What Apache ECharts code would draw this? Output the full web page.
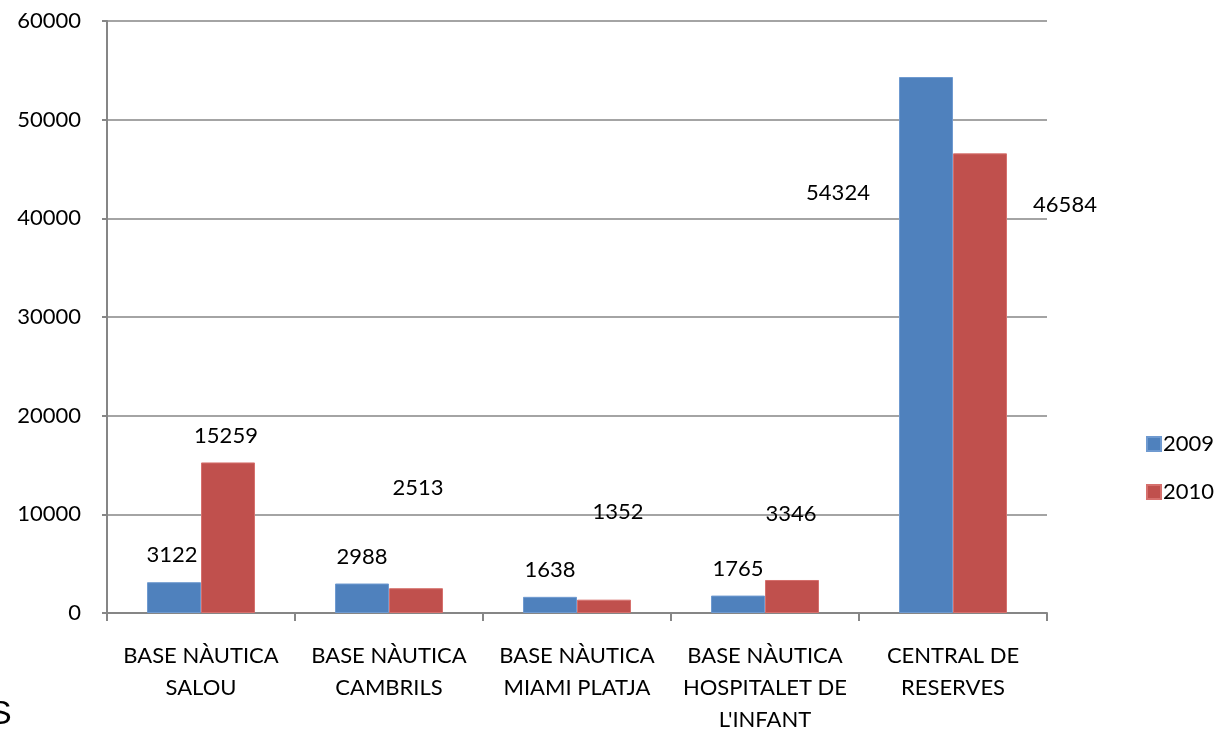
<!DOCTYPE html>
<html>
<head>
<meta charset="utf-8">
<script src="https://cdn.jsdelivr.net/npm/echarts@6/dist/echarts.min.js"></script>
<style>
html,body{margin:0;padding:0;background:#fff;}
#chart{width:1219px;height:730px;}
</style>
</head>
<body>
<div id="chart"></div>
<script>
const categories = [
  "BASE NÀUTICA\nSALOU",
  "BASE NÀUTICA\nCAMBRILS",
  "BASE NÀUTICA\nMIAMI PLATJA",
  "BASE NÀUTICA\nHOSPITALET DE\nL'INFANT",
  "CENTRAL DE\nRESERVES"
];
const values2009 = [3122, 2988, 1638, 1765, 54324];
const values2010 = [15259, 2513, 1352, 3346, 46584];
const seriesNames = ["2009", "2010"];
const yTicks = { min: 0, max: 60000, interval: 10000 };

// label placement (pixel nudges relative to bar top-centre), styling only
const nudge2009 = [[-2, -27], [0, -27], [0, -27], [0, -27], [-88, 116]];
const nudge2010 = [[-2, -27], [2, -100], [14, -88], [-1, -66], [85, 52]];

const FONT = "Lato";
const LABEL_SIZE = 22;

function build(values, nudges) {
  return values.map((v, i) => ({
    value: v,
    label: { offset: nudges[i] }
  }));
}

const chart = echarts.init(document.getElementById('chart'), null, { renderer: 'canvas' });
const labelStyle = {
  show: true,
  position: ['50%', 0],
  align: 'center',
  verticalAlign: 'middle',
  color: '#000',
  fontFamily: FONT,
  fontSize: LABEL_SIZE
};
chart.setOption({
  animation: false,
  textStyle: { fontFamily: FONT },
  grid: { left: 107, right: 172, top: 21, bottom: 117, containLabel: false, outerBoundsMode: 'none' },
  legend: {
    orient: 'vertical',
    left: 1141,
    top: 428,
    itemWidth: 14,
    itemHeight: 14,
    itemGap: 26,
    icon: 'rect',
    textStyle: { fontFamily: FONT, fontSize: 22, color: '#000', padding: [0, 0, 0, -3] },
    data: seriesNames
  },
  xAxis: {
    type: 'category',
    data: categories,
    axisLine: { lineStyle: { color: '#868686', width: 2 } },
    axisTick: { show: true, length: 8, lineStyle: { color: '#868686', width: 2 } },
    axisLabel: { color: '#000', fontFamily: FONT, fontSize: 22, lineHeight: 32, margin: 27, interval: 0 }
  },
  yAxis: {
    type: 'value',
    min: yTicks.min,
    max: yTicks.max,
    interval: yTicks.interval,
    axisLine: { show: true, lineStyle: { color: '#868686', width: 2 } },
    axisTick: { show: true, length: 5, lineStyle: { color: '#868686', width: 2 } },
    axisLabel: { color: '#000', fontFamily: FONT, fontSize: 22, margin: 26, formatter: v => String(v) },
    splitLine: { show: true, lineStyle: { color: '#868686', width: 1.5 } }
  },
  series: [
    {
      name: seriesNames[0],
      type: 'bar',
      barWidth: 54,
      barGap: '0%',
      itemStyle: { color: '#4F81BD', borderColor: '#6F9AD0', borderWidth: 1 },
      label: labelStyle,
      data: build(values2009, nudge2009)
    },
    {
      name: seriesNames[1],
      type: 'bar',
      barWidth: 54,
      barGap: '0%',
      itemStyle: { color: '#C0504D', borderColor: '#D6706D', borderWidth: 1 },
      label: labelStyle,
      data: build(values2010, nudge2010)
    }
  ],
  graphic: [
    { type: 'text', left: -11, top: 698, style: { text: 'S', fontFamily: 'Liberation Sans', fontSize: 34, fill: '#000' } }
  ]
});
</script>
</body>
</html>
